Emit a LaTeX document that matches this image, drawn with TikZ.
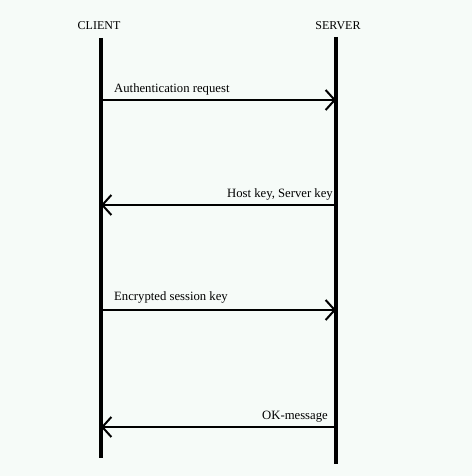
\documentclass[tikz,border=0pt]{standalone}
\usepackage{fontspec}
\setmainfont{Liberation Serif}
\usetikzlibrary{arrows.meta}
\definecolor{bg}{HTML}{F6FBF8}
\tikzset{
  lifeline/.style={line width=4pt},
  msg/.style={line width=2pt,-{Straight Barb[length=9pt,width=20pt,line width=2pt]}},
  hdr/.style={font=\fontsize{12}{14}\selectfont,inner sep=0pt},
  lbl/.style={font=\fontsize{12.7}{14}\selectfont,inner sep=0pt},
}
\begin{document}
\begin{tikzpicture}[x=1pt,y=-1pt]
\fill[bg] (0,0) rectangle (472,476);
\useasboundingbox (0,0) rectangle (472,476);
\node[hdr] (client) at (99,26) {CLIENT};
\node[hdr] (server) at (338,26) {SERVER};
\coordinate (c0) at (101,38);
\coordinate (c1) at (101,458);
\coordinate (s0) at (336,37);
\coordinate (s1) at (336,464);
\draw[lifeline] (c0) -- (c1);
\draw[lifeline] (s0) -- (s1);
\coordinate (m1c) at (101,100); \coordinate (m1s) at (336,100);
\coordinate (m2c) at (101,205); \coordinate (m2s) at (336,205);
\coordinate (m3c) at (101,310); \coordinate (m3s) at (336,310);
\coordinate (m4c) at (101,427); \coordinate (m4s) at (336,427);
\draw[msg] (m1c) -- (m1s);
\draw[msg] (m2s) -- (m2c);
\draw[msg] (m3c) -- (m3s);
\draw[msg] (m4s) -- (m4c);
\node[lbl,anchor=west] (l1) at (114,89.5) {Authentication request};
\node[lbl,anchor=east] (l2) at (333,194) {Host key, Server key};
\node[lbl,anchor=west] (l3) at (114,297) {Encrypted session key};
\node[lbl,anchor=east] (l4) at (328,417) {OK-message};
\end{tikzpicture}
\end{document}
